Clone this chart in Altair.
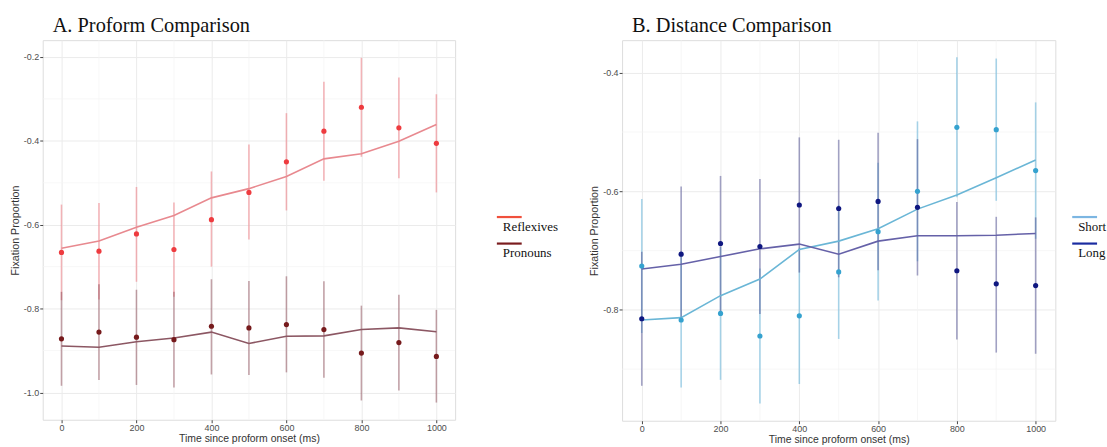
import altair as alt
import pandas as pd

# ---------------- data ----------------
times = [0, 100, 200, 300, 400, 500, 600, 700, 800, 900, 1000]

# Panel A: Proform comparison
refl_mean = [-0.666, -0.663, -0.622, -0.659, -0.588, -0.523, -0.450, -0.377, -0.320, -0.369, -0.406]
refl_lo   = [-0.780, -0.778, -0.736, -0.772, -0.700, -0.635, -0.566, -0.495, -0.438, -0.489, -0.523]
refl_hi   = [-0.552, -0.548, -0.510, -0.547, -0.473, -0.409, -0.334, -0.259, -0.202, -0.249, -0.289]
refl_fit  = [-0.656, -0.639, -0.606, -0.578, -0.536, -0.514, -0.485, -0.443, -0.431, -0.401, -0.361]

pron_mean = [-0.872, -0.856, -0.868, -0.874, -0.842, -0.846, -0.838, -0.850, -0.906, -0.881, -0.914]
pron_lo   = [-0.984, -0.970, -0.982, -0.988, -0.957, -0.958, -0.952, -0.965, -1.019, -0.995, -1.024]
pron_hi   = [-0.760, -0.742, -0.755, -0.760, -0.730, -0.734, -0.723, -0.735, -0.793, -0.767, -0.803]
pron_fit  = [-0.889, -0.892, -0.879, -0.870, -0.856, -0.883, -0.866, -0.865, -0.850, -0.846, -0.855]

# Panel B: Distance comparison
short_mean = [-0.726, -0.817, -0.806, -0.844, -0.810, -0.736, -0.668, -0.600, -0.492, -0.496, -0.565]
short_lo   = [-0.839, -0.931, -0.918, -0.958, -0.925, -0.849, -0.784, -0.718, -0.610, -0.616, -0.680]
short_hi   = [-0.613, -0.703, -0.694, -0.730, -0.695, -0.623, -0.552, -0.482, -0.374, -0.376, -0.450]
short_fit  = [-0.817, -0.813, -0.776, -0.748, -0.698, -0.684, -0.663, -0.630, -0.606, -0.577, -0.547]

long_mean = [-0.815, -0.706, -0.688, -0.693, -0.623, -0.629, -0.617, -0.627, -0.734, -0.756, -0.759]
long_lo   = [-0.928, -0.820, -0.802, -0.807, -0.737, -0.745, -0.733, -0.742, -0.850, -0.872, -0.874]
long_hi   = [-0.702, -0.592, -0.574, -0.579, -0.509, -0.513, -0.501, -0.512, -0.618, -0.643, -0.644]
long_fit  = [-0.731, -0.723, -0.710, -0.697, -0.689, -0.706, -0.684, -0.675, -0.675, -0.674, -0.671]

x_ticks = [0, 200, 400, 600, 800, 1000]
x_minor = [100, 300, 500, 700, 900]
a_y_ticks = [-1.0, -0.8, -0.6, -0.4, -0.2]
a_y_minor = [-0.9, -0.7, -0.5, -0.3]
b_y_ticks = [-0.8, -0.6, -0.4]
b_y_minor = [-0.9, -0.7, -0.5]

# ---------------- helpers ----------------
SANS = "Liberation Sans"
SERIF = "Liberation Serif"
X_TITLE = "Time since proform onset (ms)"
Y_TITLE = "Fixation Proportion"


def group_df(mean, lo, hi, fit):
    return pd.DataFrame({"time": times, "mean": mean, "lo": lo, "hi": hi, "fit": fit})


def panel(groups, ydomain, yticks, yminor, width, height, title, leg_dx):
    xscale = alt.Scale(domain=[-50, 1050], nice=False, zero=False)
    yscale = alt.Scale(domain=ydomain, nice=False, zero=False)
    xaxis = alt.Axis(title=X_TITLE, values=x_ticks, format="d", grid=True,
                     gridColor="#ebebeb", domain=False, tickSize=3, tickColor="#444",
                     labelColor="#4d4d4d", labelFontSize=9, labelFont=SANS, titleFont=SANS,
                     titleFontSize=10.5, titleFontWeight="normal", titleColor="#333",
                     labelPadding=1, titlePadding=1)
    yaxis = alt.Axis(title=Y_TITLE, values=yticks, grid=True, gridColor="#ebebeb",
                     domain=False, tickSize=3, tickColor="#444", labelColor="#4d4d4d",
                     labelFontSize=9, labelFont=SANS, titleFont=SANS, titleFontSize=10.8,
                     titleFontWeight="normal", titleColor="#333", labelPadding=1,
                     titlePadding=3,
                     labelExpr="(datum.value < 0 ? '-' : '') + format(abs(datum.value), '.1f')")
    X = lambda f: alt.X(f"{f}:Q", scale=xscale, axis=xaxis)
    Y = lambda f: alt.Y(f"{f}:Q", scale=yscale, axis=yaxis)

    layers = [
        alt.Chart(pd.DataFrame({"mx": x_minor})).mark_rule(
            color="#f3f3f3", strokeWidth=0.7).encode(x=X("mx")),
        alt.Chart(pd.DataFrame({"my": yminor})).mark_rule(
            color="#f3f3f3", strokeWidth=0.7).encode(y=Y("my")),
    ]
    bar_layers, line_layers, pt_layers, leg_layers = [], [], [], []
    one = pd.DataFrame({"k": [0]})
    for i, g in enumerate(groups):
        base = alt.Chart(group_df(*g["data"]))
        bar_layers.append(base.mark_rule(strokeWidth=1.6, color=g["bar"],
                                         opacity=g["bar_op"]).encode(
            x=X("time"), y=Y("lo"), y2="hi"))
        line_layers.append(base.mark_line(strokeWidth=1.6, color=g["line"]).encode(
            x=X("time"), y=Y("fit")))
        pt_layers.append(base.mark_circle(size=27, opacity=1, color=g["pt"]).encode(
            x=X("time"), y=Y("mean")))
        ly = 178 + 26.7 * i
        leg_layers.append(alt.Chart(one).mark_rule(color=g["leg"], strokeWidth=2.2).encode(
            x=alt.value(width + leg_dx), x2=alt.value(width + leg_dx + 25), y=alt.value(ly)))
        leg_layers.append(alt.Chart(one).mark_text(
            text=g["name"], font=SERIF, fontSize=13, color="#111", align="left",
            baseline="alphabetic").encode(x=alt.value(width + leg_dx + 6), y=alt.value(ly + 14)))

    title_layer = alt.Chart(one).mark_text(
        text=title, font=SERIF, fontSize=20.5, color="#111", align="left",
        baseline="alphabetic").encode(x=alt.value(10), y=alt.value(-8.6))

    return alt.layer(*layers, *bar_layers, *line_layers, *pt_layers, *leg_layers,
                     title_layer).properties(width=width, height=height)


left = panel(
    [dict(name="Reflexives", data=(refl_mean, refl_lo, refl_hi, refl_fit),
          pt="#ee3b3f", line="#e8898f", bar="#ec7a82", bar_op=0.55, leg="#f0503c"),
     dict(name="Pronouns", data=(pron_mean, pron_lo, pron_hi, pron_fit),
          pt="#761a1c", line="#8c5763", bar="#7f3543", bar_op=0.45, leg="#7a1c1e")],
    ydomain=[-1.065, -0.16], yticks=a_y_ticks, yminor=a_y_minor,
    width=415, height=382, title="A. Proform Comparison", leg_dx=42)

right = panel(
    [dict(name="Short", data=(short_mean, short_lo, short_hi, short_fit),
          pt="#35a2cf", line="#6ab6d6", bar="#62b2d8", bar_op=0.55, leg="#7cb6e2"),
     dict(name="Long", data=(long_mean, long_lo, long_hi, long_fit),
          pt="#0f1780", line="#6561a8", bar="#4a4a8e", bar_op=0.5, leg="#1a2ba0")],
    ydomain=[-0.987, -0.345], yticks=b_y_ticks, yminor=b_y_minor,
    width=436, height=383, title="B. Distance Comparison", leg_dx=17)

chart = alt.hconcat(left, right, spacing=28).properties(
    padding={"left": 8, "top": 13, "right": 0, "bottom": 0}
).configure_view(stroke="#c9c9c9", strokeWidth=1).configure(background="white")

chart.save("out.html", embed_options={"renderer": "svg", "actions": False})
